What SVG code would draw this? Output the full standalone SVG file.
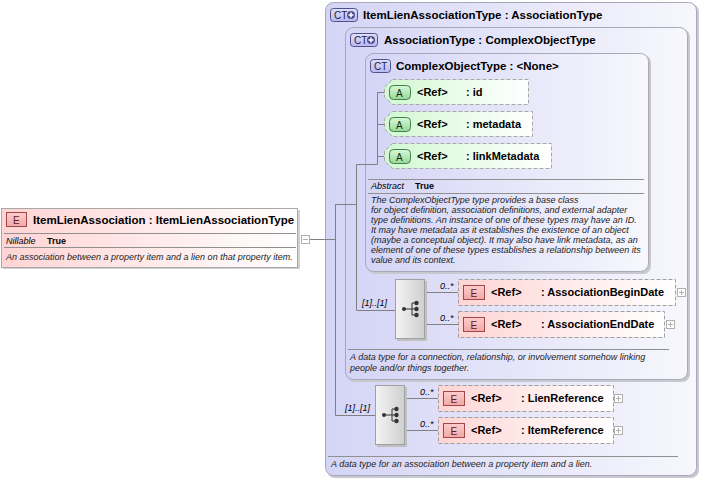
<svg xmlns="http://www.w3.org/2000/svg" width="701" height="479" viewBox="0 0 701 479">
<defs>
<linearGradient id="gLav" x1="0" y1="0" x2="1" y2="0"><stop offset="0" stop-color="#d4d4f6"/><stop offset="1" stop-color="#f7f7fd"/></linearGradient>
<linearGradient id="gPink" x1="0" y1="0" x2="1" y2="0"><stop offset="0" stop-color="#ffd4d4"/><stop offset="1" stop-color="#ffffff"/></linearGradient>
<linearGradient id="gGreen" x1="0" y1="0" x2="1" y2="0"><stop offset="0" stop-color="#d2f8d2"/><stop offset="1" stop-color="#ffffff"/></linearGradient>
<linearGradient id="gSeq" x1="0" y1="0" x2="1" y2="0"><stop offset="0" stop-color="#f4f4f4"/><stop offset="1" stop-color="#cfcfcf"/></linearGradient>
<linearGradient id="gE" x1="0" y1="0" x2="0" y2="1"><stop offset="0" stop-color="#ffcccc"/><stop offset="1" stop-color="#f0a8a8"/></linearGradient>
<linearGradient id="gA" x1="0" y1="0" x2="0" y2="1"><stop offset="0" stop-color="#d8f8d8"/><stop offset="1" stop-color="#98d898"/></linearGradient>
<linearGradient id="gCT" x1="0" y1="0" x2="0" y2="1"><stop offset="0" stop-color="#e0e0fa"/><stop offset="1" stop-color="#b8b8ec"/></linearGradient>
</defs>
<style>
text{font-family:"Liberation Sans",Arial,sans-serif;fill:#000}
.hd{font-size:11.5px;font-weight:bold}
.rw{font-size:11px;font-weight:bold}
.ds{font-size:9px;font-style:italic;fill:#222}
.pr{font-size:9px;font-style:italic}
.pv{font-size:9px;font-weight:bold}
.ic{font-size:10px;fill:#202040}
.card{font-size:9px;font-style:italic}
.box{fill:url(#gLav);stroke:#a8a8b8;stroke-width:1}
.shadow{fill:#c8c8d0}
.sep{stroke:#909090;stroke-width:1}
.ebox{fill:url(#gPink);stroke:#a0a0a0;stroke-dasharray:4 2}
.abox{fill:url(#gGreen);stroke:#a8a8a8;stroke-dasharray:4 2}
.eic{fill:url(#gE);stroke:#a04848}
.aic{fill:url(#gA);stroke:#408040}
.ctic{fill:url(#gCT);stroke:#505090}
.seq{fill:url(#gSeq);stroke:#a0a0a0}
.pl{fill:#fff;stroke:#b0b0b0}
.pls{stroke:#b0b0b0}
.cn{fill:none;stroke:#808080;stroke-width:1}
</style>

<g id="ItemLienAssociationType">
<rect class="shadow" x="327" y="4" width="372" height="474" rx="8"/>
<rect class="box" x="325.5" y="2.5" width="371" height="473" rx="8"/>
<rect class="ctic" x="330.5" y="8.5" width="27" height="13" rx="3"/>
<text class="ic" x="334" y="19">CT</text>
<circle cx="351" cy="15" r="4" fill="#505090"/>
<path d="M348.5 15h5M351 12.5v5" stroke="#fff" stroke-width="1.5"/>
<text class="hd" x="363" y="19">ItemLienAssociationType : AssociationType</text>
<line class="sep" x1="328" y1="456.5" x2="678" y2="456.5"/>
<text class="ds" x="331" y="467">A data type for an association between a property item and a lien.</text>
</g>

<g id="AssociationType">
<rect class="shadow" x="347" y="29" width="343" height="353" rx="8"/>
<rect class="box" x="345.5" y="27.5" width="342" height="352" rx="8"/>
<rect class="ctic" x="350.5" y="33.5" width="27" height="13" rx="3"/>
<text class="ic" x="354" y="44">CT</text>
<circle cx="371" cy="40" r="4" fill="#505090"/>
<path d="M368.5 40h5M371 37.5v5" stroke="#fff" stroke-width="1.5"/>
<text class="hd" x="384" y="44">AssociationType : ComplexObjectType</text>
<line class="sep" x1="348" y1="349.5" x2="669" y2="349.5"/>
<text class="ds" x="350" y="360">A data type for a connection, relationship, or involvement somehow linking</text>
<text class="ds" x="350" y="371">people and/or things together.</text>
</g>

<g id="ComplexObjectType">
<rect class="shadow" x="367" y="55" width="284" height="219" rx="8"/>
<rect class="box" x="365.5" y="53.5" width="283" height="218" rx="8"/>
<rect class="ctic" x="370.5" y="59.5" width="20" height="13" rx="3"/>
<text class="ic" x="374" y="70">CT</text>
<text class="hd" x="396" y="70">ComplexObjectType : &lt;None&gt;</text>
<line class="sep" x1="368" y1="179.5" x2="644" y2="179.5"/>
<text class="pr" x="371" y="189">Abstract</text>
<text class="pv" x="415" y="189">True</text>
<line class="sep" x1="368" y1="193.5" x2="644" y2="193.5"/>
<text class="ds" x="371" y="203">The ComplexObjectType type provides a base class</text>
<text class="ds" x="371" y="213">for object definition, association definitions, and external adapter</text>
<text class="ds" x="371" y="223">type definitions. An instance of one of these types may have an ID.</text>
<text class="ds" x="371" y="233">It may have metadata as it establishes the existence of an object</text>
<text class="ds" x="371" y="243">(maybe a conceptual object). It may also have link metadata, as an</text>
<text class="ds" x="371" y="253">element of one of these types establishes a relationship between its</text>
<text class="ds" x="371" y="263">value and its context.</text>
</g>

<g id="connectors">
<path class="cn" d="M310 239.5H335.5M335.5 204V415.5H375M335.5 204.5H356.5M356.5 164V310.5H395M356.5 164.5H377.5M377.5 92V164.5"/>
<path class="cn" d="M377 92.5H384M377 124.5H384M377 156.5H384"/>
<path class="cn" d="M425 292.5H458M425 324.5H458M405 398.5H438M405 430.5H438"/>
</g>

<g id="ItemLienAssociation">
<rect x="3" y="210" width="297" height="59" fill="#d0d0d0"/>
<rect x="1.5" y="208.5" width="296" height="59" fill="url(#gPink)" stroke="#a8a8a8"/>
<rect class="eic" x="6.5" y="212.5" width="20" height="14"/>
<text x="13" y="223.5" style="font-size:10px;fill:#602020">E</text>
<text class="hd" x="33" y="224">ItemLienAssociation : ItemLienAssociationType</text>
<line class="sep" x1="4" y1="233.5" x2="296" y2="233.5"/>
<text class="pr" x="6" y="244">Nillable</text>
<text class="pv" x="47" y="244">True</text>
<line class="sep" x1="4" y1="247.5" x2="296" y2="247.5"/>
<text class="ds" x="6" y="260">An association between a property item and a lien on that property item.</text>
<rect class="pl" x="301.5" y="235.5" width="8" height="8"/>
<path class="pls" d="M303 239.5h5"/>
</g>

<g id="attr_id">
<path class="abox" d="M392.5 79.5H528.5V104.5H392.5L384.5 97V87Z"/>
<rect class="aic" x="389.5" y="85.5" width="21" height="14" rx="4"/>
<text x="396" y="96.5" style="font-size:10px;fill:#103010">A</text>
<text class="rw" x="417" y="96">&lt;Ref&gt;</text>
<text class="rw" x="466" y="96">: id</text>
</g>
<g id="attr_metadata">
<path class="abox" d="M392.5 111.5H532.5V136.5H392.5L384.5 129V119Z"/>
<rect class="aic" x="389.5" y="117.5" width="21" height="14" rx="4"/>
<text x="396" y="128.5" style="font-size:10px;fill:#103010">A</text>
<text class="rw" x="417" y="128">&lt;Ref&gt;</text>
<text class="rw" x="466" y="128">: metadata</text>
</g>
<g id="attr_linkMetadata">
<path class="abox" d="M392.5 143.5H551.5V168.5H392.5L384.5 161V151Z"/>
<rect class="aic" x="389.5" y="149.5" width="21" height="14" rx="4"/>
<text x="396" y="160.5" style="font-size:10px;fill:#103010">A</text>
<text class="rw" x="417" y="160">&lt;Ref&gt;</text>
<text class="rw" x="466" y="160">: linkMetadata</text>
</g>

<g id="seq1">
<rect x="397" y="281" width="30" height="60" fill="#c0c0c0"/>
<rect class="seq" x="395.5" y="279.5" width="29" height="59"/>
<circle cx="404" cy="309" r="2" fill="#333"/>
<path d="M404 309H412M412 303V315M412 303H416M412 309H416M412 315H416" stroke="#333" fill="none"/>
<circle cx="416.5" cy="303" r="2.2" fill="#333"/>
<circle cx="416.5" cy="309" r="2.2" fill="#333"/>
<circle cx="416.5" cy="315" r="2.2" fill="#333"/>
<text class="card" x="362" y="306">[1]..[1]</text>
</g>
<g id="AssociationBeginDate">
<text class="card" x="440" y="289">0..*</text>
<rect class="ebox" x="458.5" y="279.5" width="217" height="26"/>
<rect class="eic" x="463.5" y="285.5" width="21" height="14"/>
<text x="470.5" y="296.5" style="font-size:10px;fill:#602020">E</text>
<text class="rw" x="491" y="296">&lt;Ref&gt;</text>
<text class="rw" x="541" y="296">: AssociationBeginDate</text>
<rect class="pl" x="677.5" y="288.5" width="8" height="8"/>
<path class="pls" d="M679 292.5h5M681.5 290v5"/>
</g>
<g id="AssociationEndDate">
<text class="card" x="440" y="321">0..*</text>
<rect class="ebox" x="458.5" y="311.5" width="206" height="26"/>
<rect class="eic" x="463.5" y="317.5" width="21" height="14"/>
<text x="470.5" y="328.5" style="font-size:10px;fill:#602020">E</text>
<text class="rw" x="491" y="328">&lt;Ref&gt;</text>
<text class="rw" x="541" y="328">: AssociationEndDate</text>
<rect class="pl" x="666.5" y="320.5" width="8" height="8"/>
<path class="pls" d="M668 324.5h5M670.5 322v5"/>
</g>

<g id="seq2">
<rect x="377" y="387" width="30" height="60" fill="#c0c0c0"/>
<rect class="seq" x="375.5" y="385.5" width="29" height="59"/>
<circle cx="384" cy="415" r="2" fill="#333"/>
<path d="M384 415H392M392 409V421M392 409H396M392 415H396M392 421H396" stroke="#333" fill="none"/>
<circle cx="396.5" cy="409" r="2.2" fill="#333"/>
<circle cx="396.5" cy="415" r="2.2" fill="#333"/>
<circle cx="396.5" cy="421" r="2.2" fill="#333"/>
<text class="card" x="345" y="411">[1]..[1]</text>
</g>
<g id="LienReference">
<text class="card" x="420" y="395">0..*</text>
<rect class="ebox" x="438.5" y="385.5" width="175" height="26"/>
<rect class="eic" x="443.5" y="391.5" width="21" height="14"/>
<text x="450.5" y="402.5" style="font-size:10px;fill:#602020">E</text>
<text class="rw" x="471" y="402">&lt;Ref&gt;</text>
<text class="rw" x="521" y="402">: LienReference</text>
<rect class="pl" x="614.5" y="394.5" width="8" height="8"/>
<path class="pls" d="M616 398.5h5M618.5 396v5"/>
</g>
<g id="ItemReference">
<text class="card" x="420" y="427">0..*</text>
<rect class="ebox" x="438.5" y="417.5" width="175" height="26"/>
<rect class="eic" x="443.5" y="423.5" width="21" height="14"/>
<text x="450.5" y="434.5" style="font-size:10px;fill:#602020">E</text>
<text class="rw" x="471" y="434">&lt;Ref&gt;</text>
<text class="rw" x="521" y="434">: ItemReference</text>
<rect class="pl" x="614.5" y="426.5" width="8" height="8"/>
<path class="pls" d="M616 430.5h5M618.5 428v5"/>
</g>
</svg>
